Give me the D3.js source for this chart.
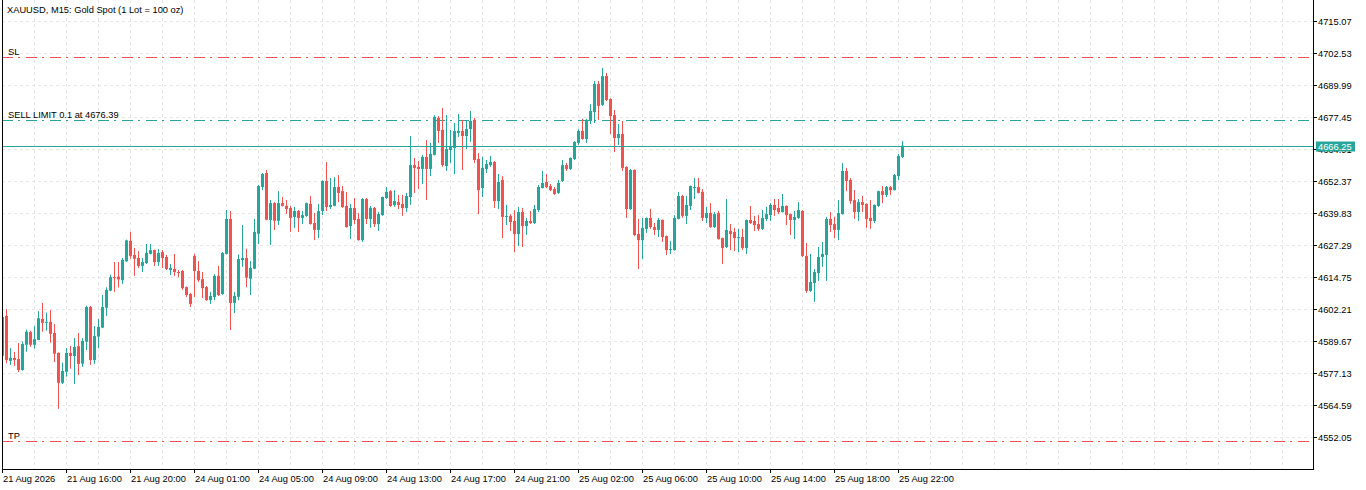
<!DOCTYPE html>
<html>
<head>
<meta charset="utf-8">
<script src="https://cdn.jsdelivr.net/npm/d3@7"></script>
<style>
    body { margin: 0; background: #fff; }
    svg text { font-family: "Liberation Sans", Arial, sans-serif; font-size: 9.3px; fill: #000; }
</style>
</head>
<body>
<script>
// XAUUSD M15 candles (bar 0 = 21 Aug 2026 12:00)
const opens = [
    4583.9, 4599.5, 4581.9, 4583.0, 4582.6, 4578.3, 4588.2, 4593.2, 4588.2, 4590.1,
    4598.3, 4596.8, 4597.2, 4592.8, 4585.0, 4573.3, 4577.6, 4585.0, 4583.8, 4587.6,
    4580.8, 4589.4, 4603.0, 4582.2, 4591.4, 4594.9, 4602.7, 4609.4, 4614.7, 4614.9,
    4613.5, 4620.9, 4628.9, 4623.4, 4622.2, 4619.1, 4620.2, 4623.8, 4625.3, 4620.6,
    4624.5, 4622.6, 4617.5, 4617.9, 4616.7, 4617.1, 4610.8, 4608.1, 4623.0, 4617.1,
    4613.9, 4610.8, 4605.7, 4606.9, 4615.2, 4608.1, 4623.8, 4637.5, 4604.6, 4607.0,
    4621.4, 4622.2, 4614.1, 4618.0, 4631.7, 4650.0, 4655.5, 4637.1, 4643.7, 4636.8,
    4643.7, 4642.6, 4641.8, 4638.3, 4640.6, 4637.9, 4638.7, 4643.4, 4635.9, 4633.2,
    4640.6, 4652.4, 4642.2, 4642.6, 4650.0, 4648.4, 4642.6, 4634.7, 4641.8, 4637.5,
    4629.2, 4645.3, 4637.5, 4641.8, 4635.5, 4639.0, 4645.7, 4648.4, 4643.0, 4644.1,
    4643.4, 4641.8, 4646.1, 4658.6, 4657.9, 4657.1, 4661.8, 4657.1, 4662.6, 4677.1,
    4672.4, 4658.2, 4664.5, 4665.3, 4671.2, 4672.0, 4670.0, 4672.7, 4676.3, 4661.0,
    4649.6, 4657.1, 4658.6, 4659.8, 4644.5, 4652.8, 4638.3, 4638.7, 4636.7, 4631.6,
    4640.2, 4634.7, 4636.7, 4635.9, 4641.0, 4649.6, 4652.0, 4650.4, 4649.2, 4647.7,
    4652.4, 4658.6, 4657.1, 4661.0, 4667.3, 4672.0, 4668.8, 4675.9, 4679.4, 4690.4,
    4682.2, 4693.5, 4684.5, 4678.2, 4669.2, 4670.8, 4657.9, 4641.4, 4656.7, 4631.6,
    4629.2, 4633.6, 4637.9, 4634.3, 4633.2, 4637.1, 4630.8, 4625.3, 4625.3, 4637.5,
    4646.5, 4638.7, 4642.6, 4649.6, 4650.0, 4648.1, 4637.9, 4639.8, 4634.3, 4639.8,
    4630.0, 4626.5, 4632.8, 4632.4, 4630.0, 4630.4, 4626.1, 4637.1, 4636.7, 4635.5,
    4633.6, 4637.5, 4639.0, 4643.0, 4641.8, 4640.2, 4642.6, 4639.4, 4637.1, 4637.9,
    4640.6, 4623.0, 4609.3, 4612.4, 4616.3, 4622.6, 4623.4, 4637.5, 4635.5, 4633.2,
    4639.4, 4656.3, 4652.8, 4644.9, 4640.2, 4644.1, 4643.4, 4637.9, 4636.7, 4642.6,
    4648.4, 4646.9, 4650.0, 4648.8, 4654.3, 4661.8
];
const highs = [
    4601.8, 4602.2, 4586.9, 4585.4, 4588.9, 4589.4, 4594.1, 4593.7, 4595.5, 4601.4,
    4604.6, 4600.8, 4601.8, 4596.3, 4585.2, 4581.2, 4586.9, 4587.7, 4590.8, 4592.8,
    4590.8, 4603.5, 4603.4, 4595.5, 4598.3, 4607.7, 4610.7, 4615.6, 4620.6, 4620.6,
    4622.2, 4629.4, 4632.5, 4626.1, 4624.9, 4622.2, 4627.7, 4627.7, 4625.5, 4625.7,
    4625.3, 4623.4, 4619.8, 4623.8, 4617.5, 4617.5, 4611.0, 4608.5, 4623.8, 4621.0,
    4616.7, 4611.2, 4608.9, 4615.9, 4619.1, 4624.5, 4641.0, 4640.6, 4608.9, 4623.5,
    4635.1, 4625.8, 4621.0, 4637.5, 4650.8, 4655.5, 4656.7, 4644.9, 4644.1, 4648.4,
    4646.1, 4644.9, 4642.6, 4642.2, 4641.0, 4640.6, 4643.9, 4646.5, 4639.8, 4643.4,
    4652.6, 4659.8, 4653.5, 4653.9, 4654.7, 4650.4, 4648.1, 4643.4, 4645.7, 4639.8,
    4645.7, 4645.7, 4642.6, 4642.2, 4640.2, 4646.3, 4650.0, 4648.8, 4648.8, 4646.9,
    4646.9, 4647.7, 4670.0, 4661.4, 4660.2, 4662.6, 4668.4, 4667.3, 4678.2, 4677.8,
    4681.0, 4678.2, 4672.4, 4675.1, 4678.6, 4676.3, 4676.3, 4679.8, 4677.1, 4663.3,
    4661.8, 4660.6, 4662.2, 4660.2, 4655.1, 4654.3, 4643.0, 4639.4, 4641.0, 4642.2,
    4641.8, 4637.9, 4640.6, 4643.0, 4650.8, 4656.3, 4655.1, 4651.2, 4650.0, 4652.8,
    4660.6, 4659.4, 4661.6, 4668.0, 4672.7, 4676.7, 4676.7, 4682.5, 4691.6, 4691.6,
    4696.7, 4694.7, 4684.7, 4680.2, 4674.7, 4675.9, 4658.1, 4657.1, 4656.9, 4637.5,
    4637.9, 4638.1, 4641.4, 4635.9, 4637.9, 4637.3, 4631.0, 4628.9, 4639.0, 4648.1,
    4646.9, 4646.5, 4650.6, 4653.5, 4653.5, 4649.2, 4642.2, 4643.7, 4640.2, 4640.6,
    4630.2, 4645.3, 4635.5, 4634.0, 4633.6, 4633.6, 4637.3, 4642.6, 4638.7, 4639.0,
    4641.0, 4642.2, 4643.7, 4645.3, 4645.3, 4647.3, 4642.8, 4639.6, 4640.6, 4644.1,
    4641.0, 4628.1, 4623.8, 4617.9, 4626.5, 4628.5, 4638.3, 4640.2, 4638.3, 4644.9,
    4659.4, 4657.5, 4653.5, 4648.8, 4645.3, 4646.5, 4643.6, 4644.9, 4643.2, 4648.6,
    4650.4, 4650.4, 4650.4, 4655.1, 4663.0, 4668.0
];
const lows = [
    4583.0, 4580.9, 4580.3, 4579.9, 4577.5, 4578.0, 4585.5, 4587.4, 4586.7, 4590.0,
    4593.3, 4593.7, 4589.0, 4581.4, 4563.1, 4572.8, 4575.7, 4578.8, 4572.8, 4576.3,
    4579.5, 4586.1, 4580.3, 4580.7, 4586.9, 4594.7, 4599.5, 4609.2, 4608.9, 4610.6,
    4612.0, 4620.6, 4621.9, 4615.2, 4618.3, 4616.7, 4619.8, 4623.6, 4619.1, 4619.1,
    4618.3, 4617.5, 4615.5, 4615.2, 4614.7, 4609.7, 4606.9, 4603.0, 4606.9, 4612.8,
    4606.5, 4605.4, 4604.2, 4605.7, 4607.3, 4607.7, 4623.6, 4594.0, 4600.6, 4605.7,
    4618.7, 4610.8, 4607.7, 4617.8, 4627.7, 4648.8, 4637.0, 4627.3, 4633.2, 4635.1,
    4642.4, 4639.4, 4632.4, 4634.0, 4632.4, 4635.5, 4638.3, 4635.3, 4629.2, 4630.0,
    4639.0, 4640.6, 4641.4, 4642.4, 4644.1, 4641.8, 4634.1, 4629.6, 4635.5, 4629.0,
    4628.5, 4635.5, 4634.0, 4634.3, 4632.8, 4638.7, 4645.3, 4642.2, 4642.2, 4641.4,
    4638.7, 4640.2, 4643.0, 4647.7, 4649.2, 4651.2, 4644.9, 4654.3, 4662.4, 4667.3,
    4657.9, 4656.3, 4659.4, 4655.1, 4669.6, 4656.7, 4664.9, 4667.7, 4659.4, 4639.4,
    4646.1, 4655.5, 4657.9, 4641.8, 4641.4, 4630.0, 4635.1, 4632.8, 4624.5, 4626.9,
    4626.5, 4631.2, 4635.5, 4635.5, 4640.2, 4649.4, 4649.6, 4648.4, 4646.9, 4647.3,
    4652.0, 4656.3, 4656.7, 4660.6, 4666.5, 4668.6, 4667.3, 4674.7, 4675.1, 4676.3,
    4681.8, 4683.7, 4670.8, 4663.7, 4666.5, 4656.3, 4637.9, 4641.0, 4630.8, 4617.9,
    4621.8, 4632.0, 4633.6, 4631.2, 4630.4, 4628.5, 4623.4, 4623.8, 4625.1, 4637.3,
    4637.9, 4635.5, 4641.0, 4645.3, 4647.5, 4636.7, 4635.9, 4634.0, 4634.0, 4629.4,
    4619.8, 4626.1, 4625.3, 4624.9, 4624.5, 4625.3, 4623.8, 4635.5, 4632.8, 4632.8,
    4633.2, 4636.7, 4636.7, 4638.7, 4639.4, 4640.0, 4635.1, 4631.2, 4629.6, 4637.5,
    4622.6, 4608.5, 4608.9, 4605.0, 4613.2, 4618.7, 4613.2, 4632.4, 4630.0, 4629.2,
    4639.2, 4648.4, 4643.4, 4637.5, 4636.7, 4640.2, 4634.0, 4633.6, 4635.9, 4642.2,
    4643.7, 4646.1, 4646.9, 4648.6, 4652.8, 4661.4
];
const closes = [
    4599.1, 4582.2, 4583.1, 4582.2, 4578.3, 4588.5, 4593.3, 4588.2, 4590.4, 4598.6,
    4596.8, 4597.2, 4592.5, 4584.7, 4573.3, 4577.9, 4585.0, 4583.8, 4587.3, 4580.7,
    4589.7, 4603.0, 4582.2, 4591.6, 4595.2, 4603.0, 4609.7, 4614.7, 4614.4, 4613.8,
    4621.5, 4629.1, 4623.0, 4621.9, 4619.1, 4620.6, 4624.2, 4625.3, 4620.6, 4624.2,
    4622.2, 4617.9, 4618.3, 4616.7, 4616.3, 4610.4, 4607.7, 4604.2, 4617.1, 4613.5,
    4610.4, 4605.7, 4607.3, 4615.2, 4607.7, 4624.2, 4637.5, 4604.6, 4607.3, 4621.8,
    4622.2, 4614.5, 4618.3, 4632.4, 4650.4, 4655.1, 4637.2, 4643.7, 4636.8, 4643.7,
    4642.6, 4641.4, 4637.9, 4640.6, 4637.9, 4639.0, 4643.7, 4635.5, 4633.2, 4640.6,
    4652.4, 4642.2, 4643.0, 4650.0, 4647.7, 4642.2, 4634.3, 4641.8, 4637.1, 4629.2,
    4645.3, 4637.5, 4641.8, 4635.5, 4639.4, 4646.1, 4648.1, 4642.6, 4644.5, 4643.0,
    4641.8, 4646.5, 4658.6, 4657.5, 4657.1, 4661.8, 4657.1, 4663.0, 4677.5, 4672.0,
    4658.6, 4664.9, 4666.1, 4672.0, 4672.0, 4670.0, 4672.7, 4675.9, 4660.6, 4648.8,
    4657.5, 4659.0, 4659.8, 4644.5, 4652.0, 4638.3, 4638.7, 4636.3, 4631.6, 4640.2,
    4634.7, 4636.7, 4635.9, 4641.4, 4650.0, 4651.6, 4650.0, 4648.8, 4647.3, 4651.6,
    4658.6, 4657.1, 4661.4, 4667.7, 4672.0, 4668.8, 4676.3, 4679.8, 4690.4, 4681.8,
    4693.5, 4684.1, 4677.8, 4669.2, 4670.8, 4657.5, 4641.4, 4656.7, 4631.2, 4629.2,
    4634.0, 4637.9, 4634.3, 4633.2, 4637.1, 4630.4, 4625.3, 4625.7, 4637.9, 4646.5,
    4638.7, 4643.0, 4650.4, 4650.0, 4647.7, 4637.9, 4639.8, 4634.3, 4639.4, 4629.6,
    4626.1, 4633.2, 4631.6, 4630.0, 4630.4, 4626.1, 4637.1, 4635.9, 4635.1, 4633.6,
    4637.9, 4639.4, 4643.0, 4641.0, 4640.2, 4642.6, 4639.0, 4637.1, 4638.3, 4641.0,
    4623.0, 4609.3, 4612.8, 4616.7, 4622.6, 4623.8, 4637.5, 4635.1, 4633.2, 4639.8,
    4656.3, 4652.4, 4644.5, 4640.2, 4644.1, 4643.0, 4637.5, 4636.7, 4643.0, 4648.4,
    4646.9, 4650.0, 4648.8, 4654.7, 4662.2, 4666.25
];

// price axis ticks and time labels (one label every 16 bars)
const priceTicks = [4715.07, 4702.53, 4689.99, 4677.45, 4664.91, 4652.37, 4639.83,
    4627.29, 4614.75, 4602.21, 4589.67, 4577.13, 4564.59, 4552.05];
const timeLabels = ['21 Aug 2026', '21 Aug 16:00', '21 Aug 20:00', '24 Aug 01:00', '24 Aug 05:00',
    '24 Aug 09:00', '24 Aug 13:00', '24 Aug 17:00', '24 Aug 21:00', '25 Aug 02:00',
    '25 Aug 06:00', '25 Aug 10:00', '25 Aug 14:00', '25 Aug 18:00', '25 Aug 22:00'];
const timeLabelBars = [0, 16, 32, 48, 64, 80, 96, 112, 128, 144, 160, 176, 192, 208, 224];

// trade levels
const levelNames = ['SL', 'SELL LIMIT 0.1 at 4676.39', 'TP'];
const levelPrices = [4700.84, 4676.39, 4550.48];
const levelColors = ['#ef5350', '#26a69a', '#ef5350'];
const bidPrice = 4666.25;

const width = 1366, height = 490;
const plot = { left: 2, right: 1313, top: 0, bottom: 469 };
const upColor = '#26a69a', downColor = '#ef5350';

const candles = opens.map((o, i) => ({ i: i, o: o, h: highs[i], l: lows[i], c: closes[i] }));

const svg = d3.select('body').append('svg')
    .attr('width', width)
    .attr('height', height);

// 4 px per bar
const xScale = d3.scaleLinear()
    .domain([0, (plot.right - 2.5) / 4])
    .range([2.5, plot.right]);

const yScale = d3.scaleLinear()
    .domain([4552.05, 4715.07])
    .range([437, 21]);

const snap = v => Math.round(v) + 0.5;

svg.append('clipPath')
    .attr('id', 'plotclip')
    .append('rect')
    .attr('x', plot.left)
    .attr('y', plot.top)
    .attr('width', plot.right - plot.left)
    .attr('height', plot.bottom - plot.top);

// grid
const grid = svg.append('g').attr('stroke', '#e6e6e6').attr('stroke-dasharray', '3,3');
grid.selectAll('line.hgrid')
    .data(priceTicks)
    .enter()
    .append('line')
    .attr('x1', plot.left)
    .attr('x2', plot.right)
    .attr('y1', d => snap(yScale(d)))
    .attr('y2', d => snap(yScale(d)));

grid.selectAll('line.vgrid')
    .data(d3.range(8, 328, 8))
    .enter()
    .append('line')
    .attr('x1', d => xScale(d))
    .attr('x2', d => xScale(d))
    .attr('y1', plot.top)
    .attr('y2', plot.bottom);

// order levels
const levels = svg.append('g');
levelNames.forEach((name, k) => {
    let y = snap(yScale(levelPrices[k]));
    levels.append('line')
        .attr('x1', plot.left)
        .attr('x2', plot.right)
        .attr('y1', y)
        .attr('y2', y)
        .attr('stroke', levelColors[k])
        .attr('stroke-dasharray', '11,5,2,6');
    levels.append('text')
        .attr('x', 8)
        .attr('y', y - 2.5)
        .text(name);
});

// candles
const cg = svg.append('g').attr('clip-path', 'url(#plotclip)');
cg.selectAll('line.wick')
    .data(candles)
    .enter()
    .append('line')
    .attr('x1', d => xScale(d.i))
    .attr('x2', d => xScale(d.i))
    .attr('y1', d => yScale(d.h))
    .attr('y2', d => yScale(d.l))
    .attr('stroke', d => d.c >= d.o ? upColor : downColor)
    .attr('stroke-width', 1);

cg.selectAll('rect.body')
    .data(candles)
    .enter()
    .append('rect')
    .attr('x', d => xScale(d.i) - 1.5)
    .attr('width', 3)
    .attr('y', d => yScale(Math.max(d.o, d.c)))
    .attr('height', d => Math.max(1, Math.abs(yScale(d.o) - yScale(d.c))))
    .attr('fill', d => d.c >= d.o ? upColor : downColor);

// bid line
const bidY = snap(yScale(bidPrice));
svg.append('line')
    .attr('x1', plot.left)
    .attr('x2', plot.right)
    .attr('y1', bidY)
    .attr('y2', bidY)
    .attr('stroke', upColor);

// frame
svg.append('line').attr('x1', plot.left + 0.5).attr('x2', plot.left + 0.5)
    .attr('y1', plot.top).attr('y2', plot.bottom + 0.5).attr('stroke', '#000');
svg.append('line').attr('x1', plot.right + 0.5).attr('x2', plot.right + 0.5)
    .attr('y1', plot.top).attr('y2', plot.bottom + 0.5).attr('stroke', '#000');
svg.append('line').attr('x1', plot.left).attr('x2', plot.right + 1)
    .attr('y1', plot.bottom + 0.5).attr('y2', plot.bottom + 0.5).attr('stroke', '#000');

// price axis
const yAxis = svg.append('g');
yAxis.selectAll('line')
    .data(priceTicks)
    .enter()
    .append('line')
    .attr('x1', plot.right)
    .attr('x2', plot.right + 4)
    .attr('y1', d => snap(yScale(d)))
    .attr('y2', d => snap(yScale(d)))
    .attr('stroke', '#000');
yAxis.selectAll('text')
    .data(priceTicks)
    .enter()
    .append('text')
    .attr('x', plot.right + 5)
    .attr('y', d => snap(yScale(d)) + 3.5)
    .text(d => d.toFixed(2));

// bid label on the axis
svg.append('rect')
    .attr('x', plot.right + 3)
    .attr('y', bidY - 5)
    .attr('width', 39)
    .attr('height', 10)
    .attr('fill', upColor);
svg.append('text')
    .attr('x', plot.right + 5)
    .attr('y', bidY + 3.5)
    .style('fill', '#fff')
    .text(bidPrice.toFixed(2));

// time axis
const xAxis = svg.append('g');
xAxis.selectAll('line')
    .data(timeLabelBars)
    .enter()
    .append('line')
    .attr('x1', d => xScale(d))
    .attr('x2', d => xScale(d))
    .attr('y1', plot.bottom)
    .attr('y2', plot.bottom + 4)
    .attr('stroke', '#000');
xAxis.selectAll('text')
    .data(timeLabelBars)
    .enter()
    .append('text')
    .attr('x', d => xScale(d) + 0.5)
    .attr('y', 482)
    .text((d, k) => timeLabels[k]);

// title
svg.append('text')
    .attr('x', 7)
    .attr('y', 13)
    .text('XAUUSD, M15:  Gold Spot (1 Lot = 100 oz)');
</script>
</body>
</html>
